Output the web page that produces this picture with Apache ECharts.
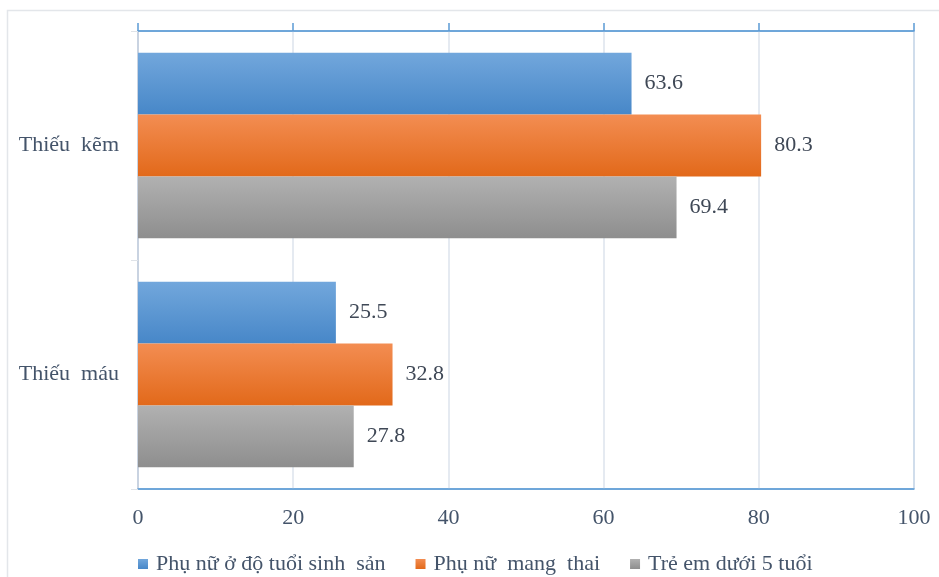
<!DOCTYPE html>
<html>
<head>
<meta charset="utf-8">
<script src="https://cdn.jsdelivr.net/npm/echarts@6/dist/echarts.min.js"></script>
<style>
  html, body { margin: 0; padding: 0; background: #fff; }
  #chart { width: 939px; height: 577px; }
</style>
</head>
<body>
<div id="chart"></div>
<script>
// dữ liệu (trên xuống dưới)
const categories = ['Thiếu kẽm', 'Thiếu máu']
const seriesNames = ['Phụ nữ ở độ tuổi sinh sản', 'Phụ nữ mang thai', 'Trẻ em dưới 5 tuổi']
const womenReproductive = [63.6, 25.5]
const pregnantWomen = [80.3, 32.8]
const childrenUnder5 = [69.4, 27.8]
const xTicks = [0, 20, 40, 60, 80, 100]

const FONT = "'Liberation Serif', 'DejaVu Serif', serif"
const TEXT = '#44546a'
const BLUE_LINE = '#5b9bd5'

function grad(top, bottom) {
  return new echarts.graphic.LinearGradient(0, 0, 0, 1, [
    { offset: 0, color: top },
    { offset: 1, color: bottom },
  ])
}

const palette = [
  grad('#72a7dc', '#4787c8'),
  grad('#f38d52', '#e2691a'),
  grad('#b1b1b1', '#8e8e8e'),
]
const values = [womenReproductive, pregnantWomen, childrenUnder5]

const chart = echarts.init(document.getElementById('chart'))

chart.setOption({
  animation: false,
  graphic: [{
    type: 'rect',
    shape: { x: 7.5, y: 10.5, width: 960, height: 620 },
    style: { fill: 'none', stroke: '#e3e6ea', lineWidth: 1.5 },
    silent: true,
  }],
  legend: {
    data: seriesNames,
    left: 133,
    top: 548,
    itemWidth: 10,
    itemHeight: 10,
    itemGap: 30,
    icon: 'rect',
    // Excel để khoảng cách chữ rộng hơn
    formatter: n => n.replace('sinh sản', 'sinh  sản').replace('nữ mang thai', 'nữ  mang  thai'),
    textStyle: { fontFamily: FONT, fontSize: 22, color: TEXT, padding: [0, 0, 0, 3] },
  },
  grid: {
    left: 138, right: 25, top: 31, bottom: 88,
    show: true, borderColor: BLUE_LINE, borderWidth: 1,
  },
  xAxis: [
    {
      type: 'value', min: 0, max: 100, interval: 20, position: 'bottom',
      axisLine: { show: true, lineStyle: { color: BLUE_LINE, width: 1.5 } },
      axisTick: { show: false },
      axisLabel: {
        margin: 18, fontFamily: FONT, fontSize: 22, color: TEXT,
        formatter: v => xTicks.includes(v) ? String(v) : '',
      },
      splitLine: { show: true, lineStyle: { color: '#dde3ec', width: 1.5 } },
    },
    {
      type: 'value', min: 0, max: 100, interval: 20, position: 'top',
      axisLine: { show: true, lineStyle: { color: BLUE_LINE, width: 1.5 } },
      axisTick: { show: true, length: 8, lineStyle: { color: BLUE_LINE, width: 1.5 } },
      axisLabel: { show: false },
      splitLine: { show: false },
    },
  ],
  yAxis: {
    type: 'category', data: categories, inverse: true,
    axisLine: { show: true, lineStyle: { color: '#c9d3e1', width: 2 } },
    axisTick: { show: true, length: 7, lineStyle: { color: '#dfe3e8' } },
    axisLabel: { margin: 19, fontFamily: FONT, fontSize: 22, color: TEXT,
      formatter: v => v.replace(' ', '  ') },
  },
  series: seriesNames.map((name, i) => ({
    name,
    type: 'bar',
    xAxisIndex: 0,
    data: values[i],
    barGap: '0%',
    barCategoryGap: '19%',
    itemStyle: { color: palette[i] },
    label: {
      show: true, position: 'right', distance: 13,
      fontFamily: FONT, fontSize: 22, color: '#3f4856',
    },
  })),
})
</script>
</body>
</html>
